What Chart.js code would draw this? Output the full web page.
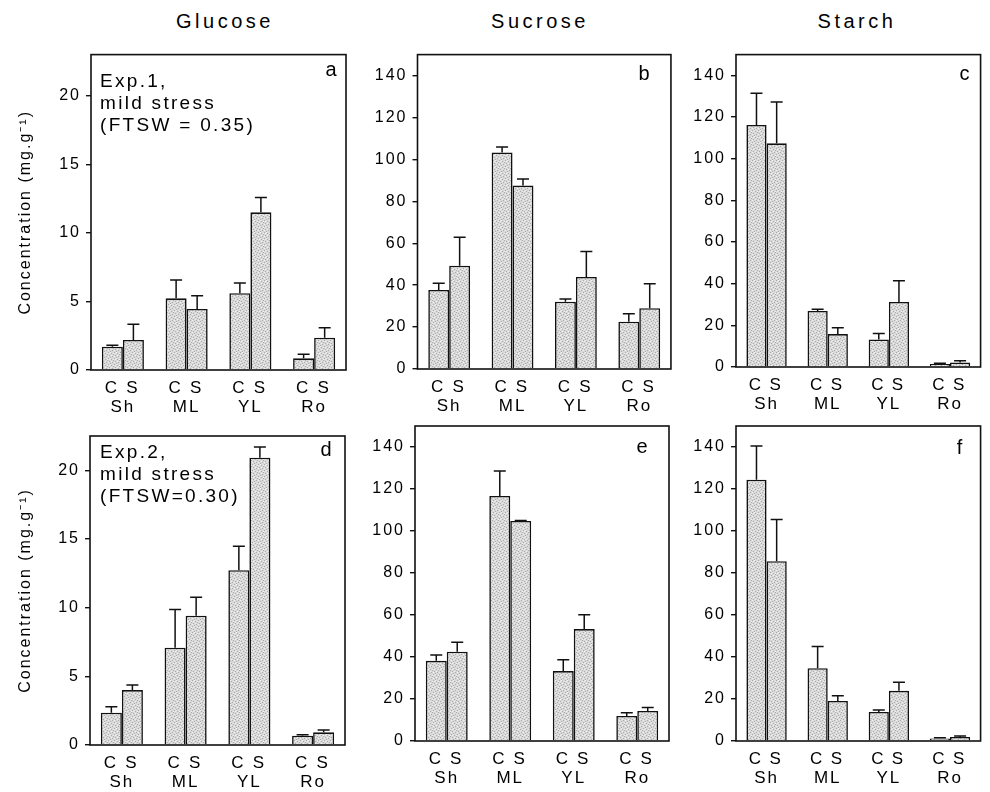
<!DOCTYPE html>
<html>
<head>
<meta charset="utf-8">
<script src="https://cdn.jsdelivr.net/npm/chart.js@4.4.1/dist/chart.umd.min.js"></script>
<style>
  html, body { margin: 0; padding: 0; background: #fff; }
  #fig { position: relative; width: 990px; height: 792px; overflow: hidden; }
  #fig canvas { position: absolute; }
  .coltitle {
    position: absolute; top: 10px; line-height: 24px;
    font: 20px "Liberation Sans", Arial, sans-serif;
    letter-spacing: 3.5px; color: #000;
    transform: translateX(-50%); white-space: nowrap;
  }
</style>
</head>
<body>
<div id="fig">
  <div class="coltitle" style="left:225px">Glucose</div>
  <div class="coltitle" style="left:540px">Sucrose</div>
  <div class="coltitle" style="left:857px">Starch</div>
</div>
<script>
// organs and treatments (C = control, S = stressed)
const groups = ['Sh', 'ML', 'YL', 'Ro'];
const treatments = ['C', 'S'];

// tick labels
const glucoseTicks = [0, 5, 10, 15, 20];
const sugarTicks = [0, 20, 40, 60, 80, 100, 120, 140];

// Exp.1 (mg.g-1), means and upper error (SE)
const glucose1C = [1.70, 5.23, 5.60, 0.85];
const glucose1CSe = [0.10, 1.34, 0.75, 0.30];
const glucose1S = [2.19, 4.45, 11.50, 2.36];
const glucose1SSe = [1.14, 0.97, 1.08, 0.73];

const sucrose1C = [37.7, 103.3, 32.1, 22.6];
const sucrose1CSe = [3.2, 2.6, 1.3, 3.8];
const sucrose1S = [49.3, 87.5, 43.9, 29.0];
const sucrose1SSe = [13.6, 3.2, 12.1, 11.7];

const starch1C = [116.2, 26.9, 13.2, 1.5];
const starch1CSe = [15.3, 0.8, 2.9, 0.3];
const starch1S = [107.4, 15.8, 31.2, 2.2];
const starch1SSe = [19.8, 3.0, 10.2, 0.8];

// Exp.2
const glucose2C = [2.35, 7.08, 12.73, 0.68];
const glucose2CSe = [0.44, 2.78, 1.74, 0.07];
const glucose2S = [4.00, 9.41, 20.92, 0.92];
const glucose2SSe = [0.36, 1.35, 0.78, 0.17];

const sucrose2C = [38.2, 116.7, 33.3, 11.9];
const sucrose2CSe = [2.8, 11.9, 5.4, 1.6];
const sucrose2S = [42.5, 104.8, 53.3, 14.3];
const sucrose2SSe = [4.5, 0.2, 6.8, 1.6];

const starch2C = [124.4, 34.7, 13.8, 1.2];
const starch2CSe = [16.1, 10.3, 1.0, 0.3];
const starch2S = [85.6, 19.1, 23.9, 1.9];
const starch2SSe = [19.9, 2.5, 4.1, 0.5];

const FONT = "'Liberation Sans', Arial, sans-serif";
const INK = '#111';
const yTitle = 'Concentration (mg.g\u207B\u00B9)';

// light stippled grey like the printed bars
function stipple() {
  const t = document.createElement('canvas');
  t.width = 6; t.height = 6;
  const g = t.getContext('2d');
  g.fillStyle = '#d9d9d9';
  g.fillRect(0, 0, 6, 6);
  g.fillStyle = '#ababab';
  [[0, 0], [3, 1], [1, 3], [4, 4], [5, 2], [2, 5]].forEach(([x, y]) => g.fillRect(x, y, 1, 1));
  g.fillStyle = '#f0f0f0';
  [[2, 0], [5, 1], [0, 4], [3, 3], [1, 1]].forEach(([x, y]) => g.fillRect(x, y, 1, 1));
  return g.createPattern(t, 'repeat');
}
const barFill = stipple();

const panels = [
  { letter: 'a', left: 0, top: 40, w: 355, h: 380, yW: 91, xH: 50, padT: 14, padR: 8,
    max: 23, ticks: glucoseTicks, c: glucose1C, cSe: glucose1CSe, s: glucose1S, sSe: glucose1SSe,
    letterDx: 15, letterDy: 21, note: ['Exp.1,', 'mild stress', '(FTSW = 0.35)'], noteDy: 32, noteDx: 9, title: true },
  { letter: 'b', left: 355, top: 40, w: 325, h: 380, yW: 62.5, xH: 51, padT: 14, padR: 7,
    max: 150, ticks: sugarTicks, c: sucrose1C, cSe: sucrose1CSe, s: sucrose1S, sSe: sucrose1SSe,
    letterDx: 27, letterDy: 25 },
  { letter: 'c', left: 680, top: 40, w: 310, h: 380, yW: 56, xH: 53, padT: 13, padR: 1,
    max: 150, ticks: sugarTicks, c: starch1C, cSe: starch1CSe, s: starch1S, sSe: starch1SSe,
    letterDx: 16, letterDy: 25 },
  { letter: 'd', left: 0, top: 410, w: 355, h: 382, yW: 90, xH: 47, padT: 26, padR: 10,
    max: 22.5, ticks: glucoseTicks, c: glucose2C, cSe: glucose2CSe, s: glucose2S, sSe: glucose2SSe,
    letterDx: 19, letterDy: 20, note: ['Exp.2,', 'mild stress', '(FTSW=0.30)'], noteDy: 22, noteDx: 10, title: true },
  { letter: 'e', left: 355, top: 410, w: 325, h: 382, yW: 60, xH: 51, padT: 16, padR: 11,
    max: 150, ticks: sugarTicks, c: sucrose2C, cSe: sucrose2CSe, s: sucrose2S, sSe: sucrose2SSe,
    letterDx: 27, letterDy: 27 },
  { letter: 'f', left: 680, top: 410, w: 310, h: 382, yW: 56, xH: 51, padT: 16, padR: 1,
    max: 150, ticks: sugarTicks, c: starch2C, cSe: starch2CSe, s: starch2S, sSe: starch2SSe,
    letterDx: 21, letterDy: 28 }
];

function panelPlugin(p) {
  return {
    id: 'panel' + p.letter,
    beforeLayout(chart) { chart.ctx.letterSpacing = '2px'; },
    beforeDraw(chart) { chart.ctx.letterSpacing = '2px'; },
    afterDatasetsDraw(chart) {
      const { ctx, chartArea: a, scales: { y } } = chart;
      ctx.save();
      ctx.strokeStyle = INK;
      ctx.fillStyle = '#000';

      // error bars, upper half only
      ctx.lineWidth = 1.5;
      chart.data.datasets.forEach((ds, i) => {
        chart.getDatasetMeta(i).data.forEach((bar, j) => {
          const top = y.getPixelForValue(ds.data[j] + ds.se[j]);
          ctx.beginPath();
          ctx.moveTo(bar.x, bar.y);
          ctx.lineTo(bar.x, top);
          ctx.moveTo(bar.x - 6, top);
          ctx.lineTo(bar.x + 6, top);
          ctx.stroke();
        });
      });

      // frame
      ctx.lineWidth = 1.6;
      ctx.strokeRect(a.left, a.top, a.right - a.left, a.bottom - a.top);

      // C / S under each bar
      ctx.letterSpacing = '1px';
      ctx.font = '17px ' + FONT;
      ctx.textAlign = 'center';
      ctx.textBaseline = 'alphabetic';
      chart.data.datasets.forEach((ds, i) => {
        chart.getDatasetMeta(i).data.forEach(bar => {
          ctx.fillText(treatments[i], bar.x - 1, a.bottom + 23);
        });
      });

      // panel letter
      ctx.letterSpacing = '0px';
      ctx.font = '20px ' + FONT;
      ctx.fillText(p.letter, a.right - p.letterDx, a.top + p.letterDy);

      // experiment note
      if (p.note) {
        ctx.letterSpacing = '2.3px';
        ctx.font = '19px ' + FONT;
        ctx.textAlign = 'left';
        p.note.forEach((line, k) => {
          ctx.fillText(line, a.left + p.noteDx, a.top + p.noteDy + k * 22);
        });
      }
      ctx.restore();
    }
  };
}

const barStyle = {
  backgroundColor: barFill,
  borderColor: INK,
  borderWidth: 1.6,
  borderSkipped: 'bottom',
  categoryPercentage: 0.66,
  barPercentage: 1
};

const fig = document.getElementById('fig');

panels.forEach(p => {
  const cv = document.createElement('canvas');
  cv.width = p.w;
  cv.height = p.h;
  cv.style.left = p.left + 'px';
  cv.style.top = p.top + 'px';
  fig.appendChild(cv);

  new Chart(cv, {
    type: 'bar',
    data: {
      labels: groups,
      datasets: [
        { label: treatments[0], data: p.c, se: p.cSe, ...barStyle },
        { label: treatments[1], data: p.s, se: p.sSe, ...barStyle }
      ]
    },
    options: {
      responsive: false,
      animation: false,
      devicePixelRatio: 1,
      layout: { padding: { top: p.padT, right: p.padR, left: 0, bottom: 0 } },
      plugins: {
        colors: { enabled: false },
        legend: { display: false },
        tooltip: { enabled: false }
      },
      scales: {
        x: {
          grid: { display: false, drawTicks: false },
          border: { display: false },
          ticks: { color: '#000', padding: 27, font: { family: FONT, size: 17 } },
          afterFit: s => { s.height = p.xH; }
        },
        y: {
          min: 0,
          max: p.max,
          afterBuildTicks: s => { s.ticks = p.ticks.map(v => ({ value: v })); },
          grid: { drawOnChartArea: false, drawTicks: true, tickLength: 5, color: INK, lineWidth: 1.4 },
          border: { display: false },
          ticks: { color: '#000', padding: 5, font: { family: FONT, size: 16 } },
          title: {
            display: !!p.title,
            text: yTitle,
            color: '#000',
            font: { family: FONT, size: 16 },
            padding: { top: 16, bottom: 0 }
          },
          afterFit: s => { s.width = p.yW; }
        }
      }
    },
    plugins: [panelPlugin(p)]
  });
});
</script>
</body>
</html>
